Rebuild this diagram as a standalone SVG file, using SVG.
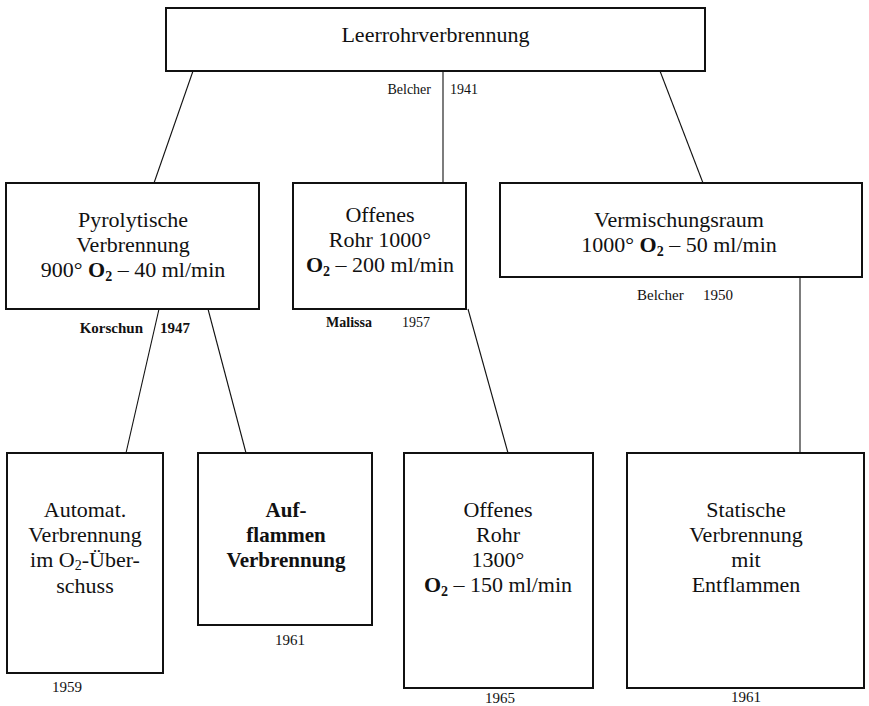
<svg xmlns="http://www.w3.org/2000/svg" width="869" height="706" viewBox="0 0 869 706">
<style>
.box{fill:#fff;stroke:#111;stroke-width:2}
.con{stroke:#111;stroke-width:1.1;fill:none}
.t{font-family:"Liberation Serif","Times New Roman",serif;font-size:22px;fill:#111;text-anchor:middle}
.b{font-weight:bold}
.s{font-family:"Liberation Serif","Times New Roman",serif;font-size:14px;fill:#111}
.y{font-family:"Liberation Serif","Times New Roman",serif;font-size:15px;fill:#111;text-anchor:middle}
.sub{font-size:14px}
</style>
<rect width="869" height="706" fill="#fff"/>
<g id="connectors">
<line class="con" x1="193" y1="71" x2="154" y2="183"/>
<line class="con" x1="443" y1="71" x2="443" y2="183"/>
<line class="con" x1="660" y1="71" x2="703" y2="183"/>
<line class="con" x1="159" y1="309" x2="126" y2="453"/>
<line class="con" x1="208" y1="309" x2="246" y2="453"/>
<line class="con" x1="468" y1="309" x2="508" y2="453"/>
<line class="con" x1="800" y1="277" x2="800" y2="453"/>
</g>
<g id="labels">
<text class="s" x="431" y="94" text-anchor="end">Belcher</text>
<text class="s" x="450" y="94">1941</text>
<text class="s b" x="143" y="333" text-anchor="end" style="font-size:15px">Korschun</text>
<text class="s b" x="160" y="333" style="font-size:15px">1947</text>
<text class="s b" x="372" y="327" text-anchor="end">Malissa</text>
<text class="s" x="402" y="327">1957</text>
<text class="s" x="637" y="300" style="font-size:15px">Belcher</text>
<text class="s" x="703" y="300" style="font-size:15px">1950</text>
</g>
<g id="n-top">
<rect class="box" x="166" y="8" width="539" height="63"/>
<text class="t" x="435.5" y="42">Leerrohrverbrennung</text>
</g>
<g id="n-pyro">
<rect class="box" x="6" y="183" width="253" height="126"/>
<text class="t" x="133" y="227">Pyrolytische</text>
<text class="t" x="133" y="252">Verbrennung</text>
<text class="t" x="133" y="277">900° <tspan class="b">O<tspan class="sub" dy="4">2</tspan></tspan><tspan dy="-4"> – 40 ml/min</tspan></text>
</g>
<g id="n-offen1">
<rect class="box" x="293" y="183" width="173" height="126"/>
<text class="t" x="380" y="222">Offenes</text>
<text class="t" x="380" y="247">Rohr 1000°</text>
<text class="t" x="380" y="272"><tspan class="b">O<tspan class="sub" dy="4">2</tspan></tspan><tspan dy="-4"> – 200 ml/min</tspan></text>
</g>
<g id="n-verm">
<rect class="box" x="500" y="183" width="362" height="94"/>
<text class="t" x="679" y="227">Vermischungsraum</text>
<text class="t" x="679" y="252">1000° <tspan class="b">O<tspan class="sub" dy="4">2</tspan></tspan><tspan dy="-4"> – 50 ml/min</tspan></text>
</g>
<g id="n-auto">
<rect class="box" x="7" y="453" width="156" height="220"/>
<text class="t" x="85" y="517">Automat.</text>
<text class="t" x="85" y="542">Verbrennung</text>
<text class="t" x="85" y="567">im O<tspan class="sub" dy="3">2</tspan><tspan dy="-3">-Über-</tspan></text>
<text class="t" x="85" y="593">schuss</text>
<text class="y" x="67" y="692">1959</text>
</g>
<g id="n-auf">
<rect class="box" x="198" y="453" width="174" height="172"/>
<text class="t b" x="286" y="517" style="font-size:21px">Auf-</text>
<text class="t b" x="286" y="542" style="font-size:21px">flammen</text>
<text class="t b" x="286" y="567" style="font-size:21px">Verbrennung</text>
<text class="y" x="290" y="645">1961</text>
</g>
<g id="n-offen2">
<rect class="box" x="404" y="453" width="189" height="235"/>
<text class="t" x="498" y="517">Offenes</text>
<text class="t" x="498" y="542">Rohr</text>
<text class="t" x="498" y="567">1300°</text>
<text class="t" x="498" y="592"><tspan class="b">O<tspan class="sub" dy="4">2</tspan></tspan><tspan dy="-4"> – 150 ml/min</tspan></text>
<text class="y" x="500" y="703">1965</text>
</g>
<g id="n-stat">
<rect class="box" x="627" y="453" width="237" height="235"/>
<text class="t" x="746" y="517">Statische</text>
<text class="t" x="746" y="542">Verbrennung</text>
<text class="t" x="746" y="567">mit</text>
<text class="t" x="746" y="592">Entflammen</text>
<text class="y" x="746" y="702">1961</text>
</g>
</svg>
